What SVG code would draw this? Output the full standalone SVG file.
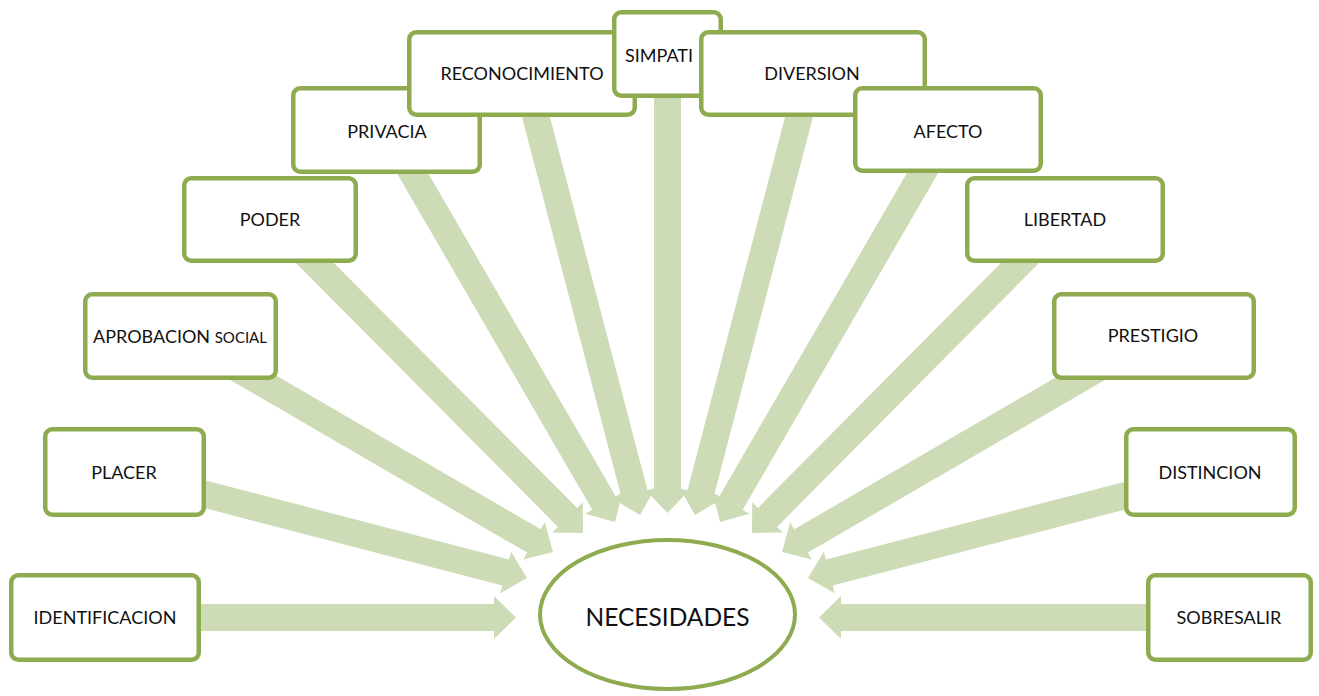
<svg xmlns="http://www.w3.org/2000/svg" width="1319" height="696" viewBox="0 0 1319 696">
  <style>
    .box { fill: #ffffff; stroke: #8eab50; stroke-width: 4.5; }
    .hub { fill: #ffffff; stroke: #8eab50; stroke-width: 4; }
    .arrow { fill: #cddbb6; stroke: none; }
    .lbl { font-family: Lato, "Liberation Sans", sans-serif; font-size: 18px; fill: #111111; text-anchor: middle; }
    .big { font-size: 24.5px; }
    .small { font-size: 15px; }
  </style>
  <rect x="0" y="0" width="1319" height="696" fill="#ffffff"/>

  <!-- block arrows pointing into the central ellipse -->
  <g id="connectors">
    <polygon class="arrow" points="190,604 494,604 494,596 516,617.5 494,639 494,631 190,631"/>
    <polygon class="arrow" points="203.40,479.93 509.11,559.40 511.12,551.66 527,578 500.30,593.28 502.31,585.54 196.60,506.07"/>
    <polygon class="arrow" points="237.84,353.26 540.76,529.28 544.78,522.36 553,552 523.18,559.54 527.20,552.62 224.28,376.60"/>
    <polygon class="arrow" points="303.45,232.20 577.08,507.88 582.76,502.24 583,533 552.24,532.54 557.92,526.90 284.29,251.22"/>
    <polygon class="arrow" points="409.62,141.27 615.64,496.19 622.56,492.18 615,522 585.36,513.76 592.28,509.75 386.26,154.83"/>
    <polygon class="arrow" points="541.48,84.56 647.50,490.30 655.24,488.27 640,515 613.64,499.15 621.38,497.12 515.36,91.38"/>
    <polygon class="arrow" points="654,90 681,90 681,491 688.5,491 667.5,513 646.5,491 654,491"/>
    <polygon class="arrow" points="793.52,84.56 687.50,490.30 679.76,488.27 695,515 721.36,499.15 713.62,497.12 819.64,91.38"/>
    <polygon class="arrow" points="925.38,141.27 719.36,496.19 712.44,492.18 720,522 749.64,513.76 742.72,509.75 948.74,154.83"/>
    <polygon class="arrow" points="1031.55,232.20 757.92,507.88 752.24,502.24 752,533 782.76,532.54 777.08,526.90 1050.71,251.22"/>
    <polygon class="arrow" points="1097.16,353.26 794.24,529.28 790.22,522.36 782,552 811.82,559.54 807.80,552.62 1110.72,376.60"/>
    <polygon class="arrow" points="1131.60,479.93 825.89,559.40 823.88,551.66 808,578 834.70,593.28 832.69,585.54 1138.40,506.07"/>
    <polygon class="arrow" points="1160,604 841,604 841,596 819,617.5 841,639 841,631 1160,631"/>
  </g>

  <g id="necesidades">
    <ellipse class="hub" cx="667.5" cy="614.5" rx="127.5" ry="74.5"/>
    <text class="lbl big" x="667.5" y="625.5">NECESIDADES</text>
  </g>

  <g id="identificacion">
    <rect class="box" x="11.25" y="575.25" width="187.5" height="84.5" rx="7"/>
    <text class="lbl" x="105" y="623.5">IDENTIFICACION</text>
  </g>
  <g id="placer">
    <rect class="box" x="45.25" y="429.25" width="158.5" height="85.5" rx="7"/>
    <text class="lbl" x="124" y="478.5">PLACER</text>
  </g>
  <g id="aprobacion-social">
    <rect class="box" x="85.25" y="294.25" width="190.5" height="83.5" rx="7"/>
    <text class="lbl" x="180" y="342.5">APROBACION <tspan class="small">SOCIAL</tspan></text>
  </g>
  <g id="poder">
    <rect class="box" x="184.25" y="178.25" width="171.5" height="82.5" rx="7"/>
    <text class="lbl" x="270" y="225.5">PODER</text>
  </g>
  <g id="privacia">
    <rect class="box" x="293.25" y="88.25" width="186.5" height="83.5" rx="7"/>
    <text class="lbl" x="387" y="137.5">PRIVACIA</text>
  </g>
  <g id="reconocimiento">
    <rect class="box" x="409.25" y="32.25" width="225.5" height="82.5" rx="7"/>
    <text class="lbl" x="522" y="79.5">RECONOCIMIENTO</text>
  </g>
  <g id="simpatia">
    <rect class="box" x="614.25" y="12.25" width="106.5" height="83.5" rx="7"/>
    <text class="lbl" x="625" y="61.5" style="text-anchor:start">SIMPATI</text>
  </g>
  <g id="diversion">
    <rect class="box" x="701.25" y="32.25" width="223.5" height="82.5" rx="7"/>
    <text class="lbl" x="812" y="79.5">DIVERSION</text>
  </g>
  <g id="afecto">
    <rect class="box" x="855.25" y="88.25" width="185.5" height="82.5" rx="7"/>
    <text class="lbl" x="948" y="137.5">AFECTO</text>
  </g>
  <g id="libertad">
    <rect class="box" x="967.25" y="178.25" width="195.5" height="82.5" rx="7"/>
    <text class="lbl" x="1065" y="225.5">LIBERTAD</text>
  </g>
  <g id="prestigio">
    <rect class="box" x="1054.25" y="294.25" width="199.5" height="83.5" rx="7"/>
    <text class="lbl" x="1153" y="341.5">PRESTIGIO</text>
  </g>
  <g id="distincion">
    <rect class="box" x="1126.25" y="429.25" width="168.5" height="85.5" rx="7"/>
    <text class="lbl" x="1210" y="478.5">DISTINCION</text>
  </g>
  <g id="sobresalir">
    <rect class="box" x="1148.25" y="575.25" width="162.5" height="84.5" rx="7"/>
    <text class="lbl" x="1229" y="623.5">SOBRESALIR</text>
  </g>
</svg>
